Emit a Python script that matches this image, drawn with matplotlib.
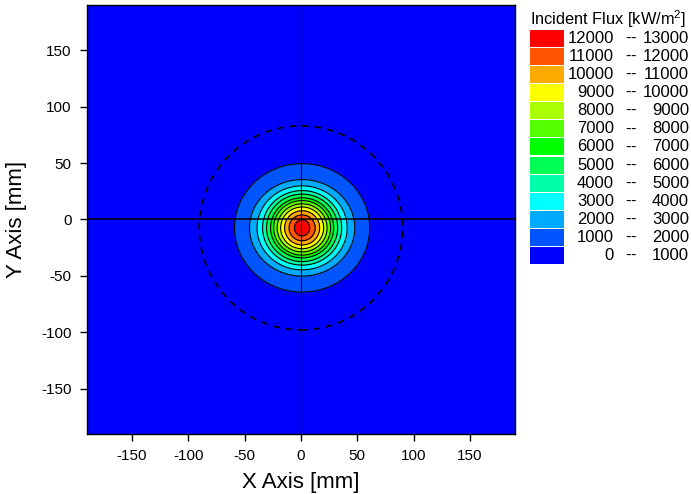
import numpy as np
import matplotlib
matplotlib.use("Agg")
import matplotlib.pyplot as plt
from matplotlib.patches import Circle, Rectangle

plt.rcParams["font.family"] = ["Liberation Sans", "DejaVu Sans"]
plt.rcParams["mathtext.fontset"] = "custom"
plt.rcParams["mathtext.rm"] = "Liberation Sans"
plt.rcParams["axes.unicode_minus"] = False

# contour levels (kW/m2) and the half-widths of each contour (mm)
flux_levels = [1000, 2000, 3000, 4000, 5000, 6000, 7000, 8000, 9000, 10000, 11000, 12000]
radius_x_mm = [60.0, 46.7, 40.0, 35.1, 31.6, 28.0, 25.3, 22.2, 19.1, 15.6, 11.7, 6.9]
radius_y_mm = [56.9, 42.7, 37.2, 33.0, 29.9, 26.6, 24.2, 21.3, 18.5, 15.2, 11.5, 7.2]
peak_flux = 12800
spot_center = (1.0, -7.4)

# dashed aperture circle
circle_center = (0.0, -7.4)
circle_radius = 90.4

band_lows = [12000, 11000, 10000, 9000, 8000, 7000, 6000, 5000, 4000, 3000, 2000, 1000, 0]
band_highs = [13000, 12000, 11000, 10000, 9000, 8000, 7000, 6000, 5000, 4000, 3000, 2000, 1000]
band_colors = ["#ff0000", "#ff5500", "#ffaa00", "#ffff00", "#aaff00", "#55ff00", "#00ff00",
               "#00ff55", "#00ffaa", "#00ffff", "#00aaff", "#0055ff", "#0000ff"]

# build the field from the nested contour ellipses
x = np.linspace(-190, 190, 761)
y = np.linspace(-190, 190, 761)
X, Y = np.meshgrid(x, y)
dx = X - spot_center[0]
dy = Y - spot_center[1]

s = np.array([np.sqrt((dx / a) ** 2 + (dy / b) ** 2) for a, b in zip(radius_x_mm, radius_y_mm)])
lv = np.array(flux_levels, dtype=float)
Z = np.zeros_like(X)
# outside the outermost contour: fall off toward 0
Z = np.where(s[0] >= 1, lv[0] / s[0] ** 3, Z)
for k in range(1, len(lv)):
    inside = (s[k - 1] < 1) & (s[k] >= 1)
    f = (1 - s[k - 1]) / (s[k] - s[k - 1])
    Z = np.where(inside, lv[k - 1] + f * (lv[k] - lv[k - 1]), Z)
inner = s[-1] < 1
Z = np.where(inner, peak_flux - (peak_flux - lv[-1]) * s[-1], Z)

fig = plt.figure(figsize=(6.91, 4.94), dpi=100)
ax = fig.add_axes([87 / 691, 1 - 434 / 494, 428 / 691, 429 / 494])

all_levels = [0] + flux_levels + [13000]
ax.contourf(X, Y, Z, levels=all_levels, colors=band_colors[::-1])
ax.contour(X, Y, Z, levels=flux_levels, colors="black", linewidths=0.8)

ax.axhline(0, color="black", lw=1.1)
ax.axvline(0, color="black", lw=0.8)
ax.add_patch(Circle(circle_center, circle_radius, fill=False, edgecolor="black",
                    lw=1.2, linestyle=(0, (4, 3.5))))

ax.set_xlim(-190, 190)
ax.set_ylim(-190, 190)
ticks = [-150, -100, -50, 0, 50, 100, 150]
ax.set_xticks(ticks)
ax.set_yticks(ticks)
ax.tick_params(direction="out", length=5, width=1, labelsize=11, pad=6,
               top=False, right=False)
for sp in ax.spines.values():
    sp.set_linewidth(1.0)
ax.set_xlabel("X Axis [mm]", fontsize=16, labelpad=6)
ax.set_ylabel("Y Axis [mm]", fontsize=16, labelpad=10)

# legend panel drawn in pixel units
lg = fig.add_axes([525 / 691, 0, 166 / 691, 1])
lg.set_xlim(525, 691)
lg.set_ylim(494, 0)
lg.axis("off")
lg.text(530, 25, "Incident Flux [kW/m$^2$]", fontsize=11.8, ha="left", va="baseline")
for i, (lo, hi, c) in enumerate(zip(band_lows, band_highs, band_colors)):
    top = 30 + i * 18.08
    lg.add_patch(Rectangle((530, top), 34, 17, facecolor=c, edgecolor="none"))
    yc = top + 8.5
    lg.text(614, yc, f"{lo}", fontsize=12, ha="right", va="center")
    lg.text(627.5, yc, "-", fontsize=12, ha="center", va="center")
    lg.text(633, yc, "-", fontsize=12, ha="center", va="center")
    lg.text(689, yc, f"{hi}", fontsize=12, ha="right", va="center")

fig.savefig("out.png", dpi=100)
